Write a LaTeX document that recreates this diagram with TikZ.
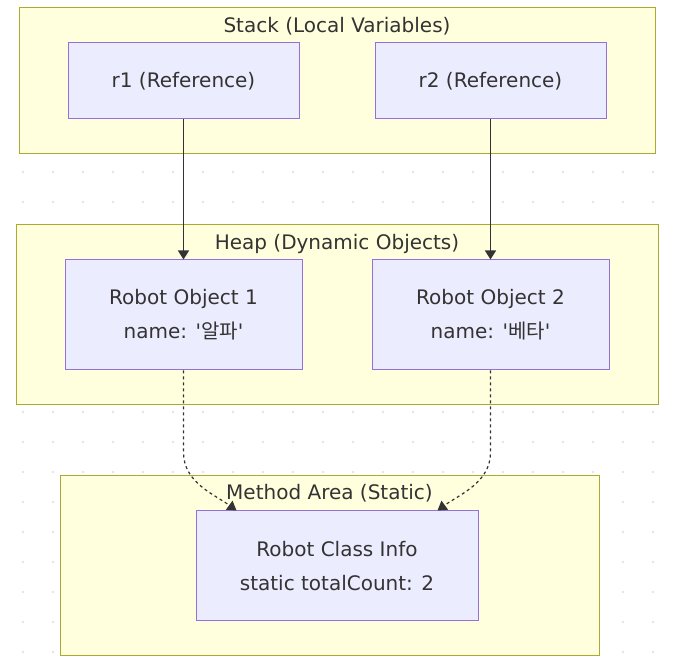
\documentclass[tikz,border=0pt]{standalone}
\usepackage{fontspec}
\setmainfont{DejaVu Sans}
\newfontfamily\krfont{Noto Sans CJK KR}
\usepackage{tikz}
\usetikzlibrary{arrows.meta,positioning,calc}

\definecolor{clusterFill}{HTML}{FFFFDE}
\definecolor{clusterLine}{HTML}{AAAA33}
\definecolor{boxFill}{HTML}{ECECFF}
\definecolor{boxLine}{HTML}{9370DB}
\definecolor{inkGray}{HTML}{333333}
\definecolor{dotGray}{HTML}{E3E3E3}

\tikzset{
  area/.style={draw=clusterLine, fill=clusterFill, line width=0.75pt, inner sep=0pt},
  areatitle/.style={text=inkGray, anchor=base, font=\fontsize{15}{18}\selectfont},
  membox/.style={draw=boxLine, fill=boxFill, line width=0.75pt, text=inkGray,
    align=center, inner sep=0pt, font=\fontsize{15}{25.5}\selectfont},
  refline/.style={draw=inkGray, line width=0.9pt, -{Triangle[width=8.25pt,length=6.75pt]}},
  classline/.style={refline, dash pattern=on 2.25pt off 2.25pt}
}

\begin{document}
\begin{tikzpicture}[x=0.75pt,y=-0.75pt]
  \useasboundingbox (0,0) rectangle (676,670);

  % Dotted background
  \foreach \i in {0,...,21}
    \foreach \j in {0,...,21}
      \fill[dotGray] (23+30*\i,22+30*\j) circle (1.1pt);

  % Stack
  \node[area, minimum width=477pt, minimum height=109.5pt] (stack) at (337,81) {};
  \node[areatitle] (stackTitle) at (337,32.3) {Stack (Local Variables)};
  \node[membox, minimum width=173.25pt, minimum height=57pt] (r1) at (183.5,81) {r1 (Reference)};
  \node[membox, minimum width=173.25pt, minimum height=57pt] (r2) at (490.5,81) {r2 (Reference)};

  % Heap
  \node[area, minimum width=481.5pt, minimum height=135pt] (heap) at (337,315) {};
  \node[areatitle] (heapTitle) at (337,249.3) {Heap (Dynamic Objects)};
  \node[membox, minimum width=177.75pt, minimum height=82.5pt] (obj1) at (183.5,315)
    {Robot Object 1\\name: \textquotesingle{\krfont 알파}\textquotesingle};
  \node[membox, minimum width=177.75pt, minimum height=82.5pt] (obj2) at (490.5,315)
    {Robot Object 2\\name: \textquotesingle{\krfont 베타}\textquotesingle};

  % Method area
  \node[area, minimum width=404.25pt, minimum height=135pt] (method) at (329.5,566) {};
  \node[areatitle] (methodTitle) at (329.5,499.5) {Method Area (Static)};
  \node[membox, minimum width=211.5pt, minimum height=82.5pt] (info) at (337,566)
    {Robot Class Info\\static totalCount: 2};

  % References
  \draw[refline] (r1) -- (obj1);
  \draw[refline] (r2) -- (obj2);

  % Class links
  \draw[classline] (obj1.south) -- ++(0,82)
    .. controls +(0,30) and +(-22,-16) .. ($(info.north west)+(41,0)$);
  \draw[classline] (obj2.south) -- ++(0,82)
    .. controls +(0,30) and +(22,-16) .. ($(info.north east)+(-41,0)$);
\end{tikzpicture}
\end{document}
